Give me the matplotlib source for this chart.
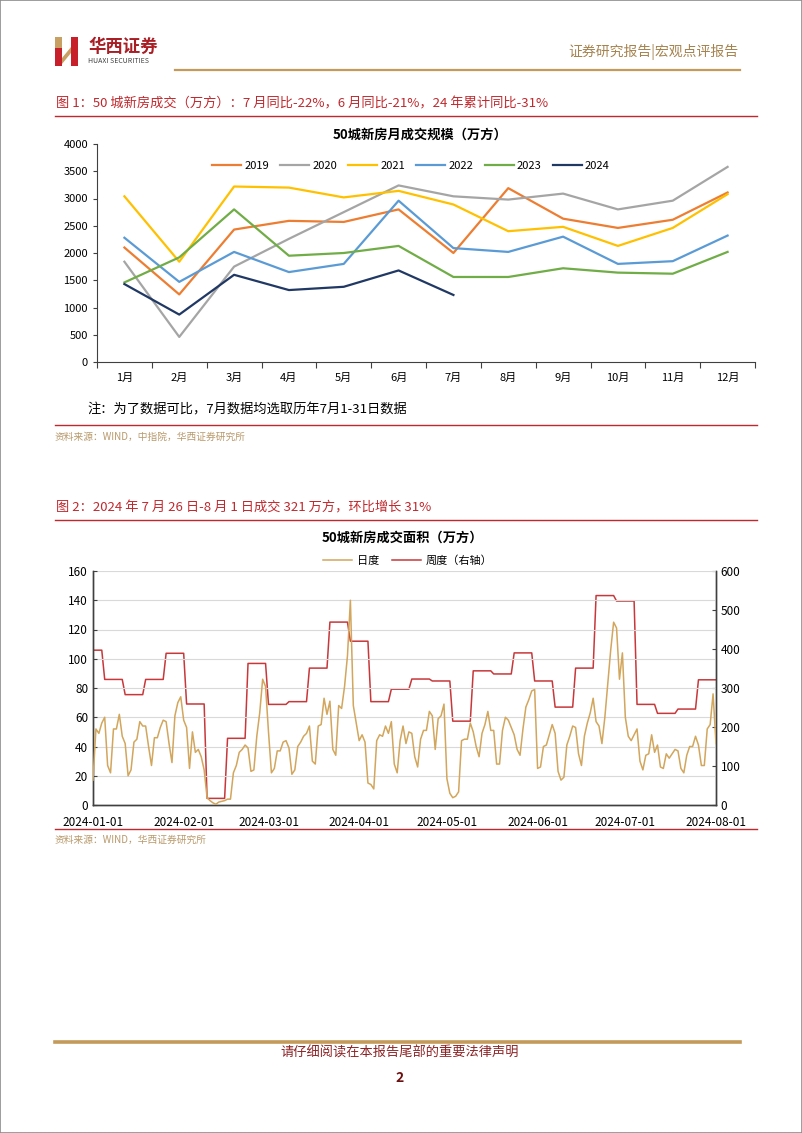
"""
华西证券 宏观点评 p.2 - 50城新房成交
"""

import matplotlib.pyplot as plt
import matplotlib.patches as mpatches
from matplotlib.lines import Line2D
import numpy as np
import pandas as pd

plt.rcParams['font.family'] = ['Noto Sans CJK SC', 'DejaVu Sans']

W, H = 802, 1133

# ---- 图1 data: 50城新房月成交规模（万方）
months = ['1月', '2月', '3月', '4月', '5月', '6月', '7月', '8月', '9月', '10月', '11月', '12月']
s2019 = [2100, 1240, 2430, 2590, 2570, 2800, 2000, 3190, 2630, 2460, 2610, 3110]
s2020 = [1840, 460, 1750, 2260, 2750, 3240, 3040, 2980, 3090, 2800, 2960, 3580]
s2021 = [3040, 1840, 3220, 3200, 3020, 3140, 2890, 2400, 2480, 2130, 2460, 3080]
s2022 = [2280, 1470, 2020, 1650, 1800, 2960, 2090, 2020, 2300, 1800, 1850, 2320]
s2023 = [1460, 1920, 2800, 1950, 2000, 2130, 1560, 1560, 1720, 1640, 1620, 2020]
s2024 = [1430, 870, 1600, 1320, 1380, 1680, 1230]
year_labels = ['2019', '2020', '2021', '2022', '2023', '2024']
year_colors = ['#ED7D31', '#A5A5A5', '#FFC000', '#5B9BD5', '#70AD47', '#203864']

# ---- 图2 data: 50城新房成交面积（万方）, daily 2024-01-01 .. 2024-08-01
daily_jan = [17, 52, 49, 56, 60, 27, 22, 52, 52, 62, 47, 42, 20, 24, 43, 45, 57, 54, 54, 40,
             27, 46, 46, 53, 58, 57, 42, 29, 61, 70, 74]
daily_feb = [58, 53, 25, 50, 36, 38, 33, 24, 5, 3, 1.5, 0.5, 2, 2.5, 3, 4, 4, 22, 27, 36,
             38, 41, 39, 23, 24, 47, 63, 86, 81]
daily_mar = [50, 22, 25, 37, 37, 43, 44, 39, 21, 24, 40, 43, 47, 49, 54, 30, 28, 54, 55, 73,
             62, 71, 38, 34, 68, 66, 81, 102, 140, 68, 56]
daily_apr = [44, 48, 43, 15, 14, 11, 44, 48, 47, 54, 49, 57, 28, 22, 44, 54, 42, 50, 49, 33,
             26, 45, 51, 51, 64, 61, 38, 59, 61, 69]
daily_may = [18, 8, 5, 6, 9, 44, 45, 45, 56, 50, 40, 33, 49, 55, 64, 51, 51, 28, 28, 51,
             60, 58, 53, 48, 38, 34, 52, 67, 72, 78, 79]
daily_jun = [25, 26, 40, 41, 48, 55, 49, 23, 17, 19, 41, 47, 54, 53, 35, 27, 47, 56, 63, 73,
             57, 54, 42, 60, 83, 106, 125, 121, 86, 104]
daily_jul = [60, 47, 44, 48, 52, 30, 24, 34, 35, 48, 36, 41, 26, 25, 35, 32, 35, 38, 37, 25,
             22, 34, 40, 40, 47, 41, 27, 27, 52, 55, 76]
daily_aug = [42]

# weekly totals (Fri-Thu weeks, right axis), by week-ending Thursday
week_ends = pd.date_range('2024-01-04', '2024-08-01', freq='7D')
weekly = [397, 322, 283, 322, 389, 259, 17, 171, 363, 258, 265, 351, 469, 420, 265, 297,
          323, 318, 215, 344, 336, 390, 318, 251, 351, 537, 523, 258, 235, 246, 321]

RED = '#C0282D'
GOLD = '#C49A5A'
TAN = '#B8996A'


def fx(x):
    return x / W


def fy(y):
    return 1 - y / H


def hline(fig, y, x0, x1, color, lw):
    fig.add_artist(Line2D([fx(x0), fx(x1)], [fy(y), fy(y)], color=color, lw=lw,
                          transform=fig.transFigure))


def draw_page(fig):
    """Header, footer, captions"""
    # page frame
    fig.add_artist(mpatches.Rectangle((0, 0), 1, 1, fill=False, ec='#8c8c8c', lw=1.2,
                                      transform=fig.transFigure))
    # logo
    fig.add_artist(mpatches.Rectangle((fx(55), fy(66)), fx(7), 29 / H, fc='#C8202A', ec='none',
                                      transform=fig.transFigure))
    fig.add_artist(mpatches.Rectangle((fx(55), fy(48)), fx(7), 11 / H, fc='#C9A063', ec='none',
                                      transform=fig.transFigure))
    fig.add_artist(mpatches.Rectangle((fx(71), fy(66)), fx(7), 29 / H, fc='#C8202A', ec='none',
                                      transform=fig.transFigure))
    fig.add_artist(mpatches.Polygon([(fx(62), fy(58)), (fx(71), fy(47)), (fx(71), fy(53)), (fx(62), fy(64))],
                                    closed=True, fc='#C9A063', ec='none', transform=fig.transFigure))
    fig.text(fx(88), fy(47), '华西证券', fontsize=12.5, fontweight='bold', color='#A81E24', va='center')
    fig.text(fx(88), fy(61), 'HUAXI SECURITIES', fontsize=5, color='#404040', va='center')
    fig.text(fx(738), fy(52), '证券研究报告|宏观点评报告', fontsize=10, color='#A5834F',
             ha='right', va='center')
    hline(fig, 70, 175, 740, GOLD, 1.6)

    # 图1 caption
    fig.text(fx(56), fy(104), '图 1：50 城新房成交（万方）：7 月同比-22%，6 月同比-21%，24 年累计同比-31%',
             fontsize=9.5, color=RED, va='center')
    hline(fig, 116, 55, 757, RED, 1.0)
    fig.text(fx(87), fy(410), '注：为了数据可比，7月数据均选取历年7月1-31日数据', fontsize=9.5,
             color='black', va='center')
    hline(fig, 425, 55, 757, RED, 1.0)
    fig.text(fx(55), fy(437), '资料来源：WIND，中指院，华西证券研究所', fontsize=7, color=TAN, va='center')

    # 图2 caption
    fig.text(fx(56), fy(508), '图 2：2024 年 7 月 26 日-8 月 1 日成交 321 万方，环比增长 31%',
             fontsize=9.5, color=RED, va='center')
    hline(fig, 520, 55, 757, RED, 1.0)
    hline(fig, 829, 55, 757, RED, 1.0)
    fig.text(fx(55), fy(840), '资料来源：WIND，华西证券研究所', fontsize=7, color=TAN, va='center')

    # footer
    hline(fig, 1042, 55, 740, GOLD, 2.6)
    fig.text(fx(400), fy(1053), '请仔细阅读在本报告尾部的重要法律声明', fontsize=9.5, color='#8B2326',
             ha='center', va='center')
    fig.text(fx(400), fy(1078), '2', fontsize=10, fontweight='bold', style='italic',
             color='#6B1010', ha='center', va='center')


def plot_monthly(fig):
    """图1: monthly turnover lines"""
    ax = fig.add_axes([fx(97), fy(362), fx(755 - 97), (362 - 144) / H])
    series = [s2019, s2020, s2021, s2022, s2023, s2024]
    for vals, lab, col in zip(series, year_labels, year_colors):
        ax.plot(np.arange(len(vals)), vals, color=col, lw=1.6, label=lab)

    ax.set_xlim(-0.5, 11.5)
    ax.set_ylim(0, 4000)
    ax.set_yticks(np.arange(0, 4001, 500))
    ax.set_xticks(np.arange(12))
    ax.set_xticklabels(months)
    ax.set_xticks(np.arange(-0.5, 12, 1), minor=True)
    ax.tick_params(axis='x', which='major', length=0, labelsize=8, pad=8)
    ax.tick_params(axis='x', which='minor', length=4, width=0.8, direction='out', color='#404040')
    ax.tick_params(axis='y', length=3, width=0.8, labelsize=8, color='#404040')
    for side in ['top', 'right']:
        ax.spines[side].set_visible(False)
    for side in ['left', 'bottom']:
        ax.spines[side].set_color('#404040')
        ax.spines[side].set_linewidth(0.8)

    fig.text(fx(420), fy(135), '50城新房月成交规模（万方）', fontsize=9.5, fontweight='bold',
             ha='center', va='center')
    ax.legend(loc='center', bbox_to_anchor=(fx(411), fy(166)), bbox_transform=fig.transFigure,
              ncol=6, frameon=False, fontsize=8, handlelength=2.6, columnspacing=1.0,
              handletextpad=0.3)


def plot_daily(fig):
    """图2: daily (left) and weekly (right) turnover"""
    days = pd.date_range('2024-01-01', '2024-08-01', freq='D')
    daily = daily_jan + daily_feb + daily_mar + daily_apr + daily_may + daily_jun + daily_jul + daily_aug
    # each day carries the total of the Fri-Thu week it belongs to
    week_idx = np.searchsorted(week_ends.values, days.values)
    weekly_daily = np.array(weekly)[week_idx]

    ax = fig.add_axes([fx(93), fy(805), fx(716 - 93), (805 - 571) / H])
    ax2 = ax.twinx()
    ax.plot(days, daily, color='#D2A65C', lw=1.1, label='日度', zorder=3)
    ax2.plot(days, weekly_daily, color='#C8383A', lw=1.1, label='周度（右轴）')
    ax.set_zorder(ax2.get_zorder() + 1)
    ax.patch.set_visible(False)

    ax.set_xlim(days[0], days[-1])
    ax.set_ylim(0, 160)
    ax2.set_ylim(0, 600)
    ax.set_yticks(np.arange(0, 161, 20))
    ax2.set_yticks(np.arange(0, 601, 100))
    ticks = pd.date_range('2024-01-01', '2024-08-01', freq='MS')
    ax.set_xticks(ticks)
    ax.set_xticklabels([t.strftime('%Y-%m-%d') for t in ticks])
    ax.grid(axis='y', color='#D9D9D9', lw=0.8)
    ax.set_axisbelow(True)

    ax.tick_params(axis='x', length=0, labelsize=8.5, pad=8)
    ax.tick_params(axis='y', length=3, direction='in', labelsize=8.5, color='#404040')
    ax2.tick_params(axis='y', length=3, direction='in', labelsize=8.5, color='#404040')
    for a in (ax, ax2):
        a.spines['top'].set_visible(False)
        for side in ['left', 'bottom', 'right']:
            a.spines[side].set_color('#404040')
            a.spines[side].set_linewidth(1.0)

    fig.text(fx(402), fy(538), '50城新房成交面积（万方）', fontsize=9.5, fontweight='bold',
             ha='center', va='center')
    handles = ax.get_lines()[:1] + ax2.get_lines()[:1]
    ax.legend(handles, ['日度', '周度（右轴）'], loc='center', bbox_to_anchor=(fx(408), fy(561)),
              bbox_transform=fig.transFigure, ncol=2, frameon=False, fontsize=8,
              handlelength=2.6, columnspacing=1.2, handletextpad=0.4)


def main():
    fig = plt.figure(figsize=(W / 100, H / 100), dpi=100)
    draw_page(fig)
    plot_monthly(fig)
    plot_daily(fig)
    fig.savefig('out.png', dpi=100)
    plt.close(fig)


if __name__ == "__main__":
    main()
